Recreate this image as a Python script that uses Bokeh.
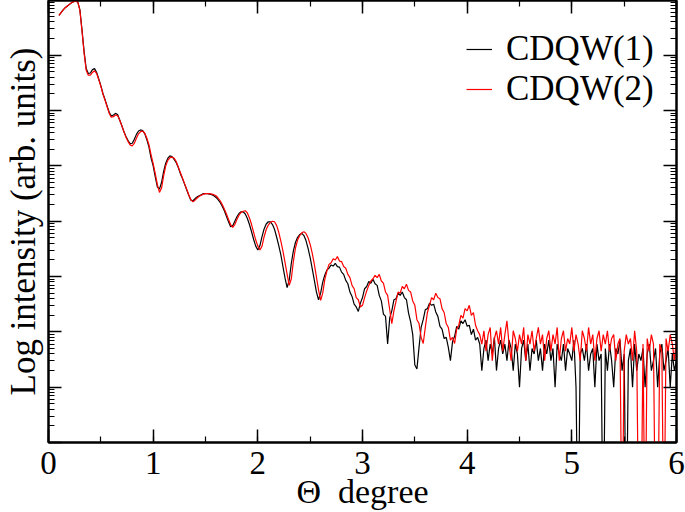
import numpy as np
from bokeh.plotting import figure
from bokeh.models import (Range1d, LinearAxis, LogAxis, SingleIntervalTicker,
                          LogTicker, Legend, LegendItem, ColumnDataSource)
from bokeh.embed import file_html
from bokeh.resources import INLINE

# scan grid (degrees)
theta_start = 0.10
theta_step = 0.02

# log10 of intensity, CDQW(1) (black)
cdqw1_log10 = [
    7.72, 7.77, 7.82, 7.86, 7.89, 7.92, 7.95, 7.97, 7.98, 7.96,
    7.82, 7.46, 7.07, 6.76, 6.67, 6.68, 6.74, 6.76, 6.69, 6.57,
    6.45, 6.31, 6.20, 6.08, 5.97, 5.90, 5.92, 5.95, 5.93, 5.83,
    5.73, 5.62, 5.53, 5.46, 5.40, 5.41, 5.48, 5.57, 5.63, 5.65,
    5.64, 5.58, 5.47, 5.34, 5.14, 5.00, 4.80, 4.62, 4.58, 4.70,
    4.90, 5.05, 5.14, 5.18, 5.17, 5.12, 5.06, 4.97, 4.86, 4.77,
    4.67, 4.57, 4.47, 4.38, 4.37, 4.41, 4.44, 4.46, 4.48, 4.50,
    4.50, 4.50, 4.49, 4.48, 4.46, 4.43, 4.39, 4.34, 4.27, 4.19,
    4.09, 3.99, 3.90, 3.92, 4.00, 4.08, 4.14, 4.17, 4.17, 4.13,
    4.05, 3.94, 3.81, 3.67, 3.55, 3.48, 3.56, 3.72, 3.86, 3.95,
    3.99, 3.99, 3.94, 3.85, 3.71, 3.56, 3.39, 3.18, 2.97, 2.80,
    2.94, 3.24, 3.47, 3.62, 3.71, 3.76, 3.78, 3.74, 3.65, 3.51,
    3.34, 3.14, 2.93, 2.72, 2.58, 2.70, 2.90, 3.03, 3.12, 3.15,
    3.21, 3.19, 3.24, 3.18, 3.17, 3.08, 3.04, 2.93, 2.87, 2.72,
    2.64, 2.50, 2.45, 2.37, 2.52, 2.62, 2.78, 2.82, 2.91, 2.88,
    2.95, 2.87, 2.84, 2.66, 2.56, 2.32, 2.28, 1.78, 2.25, 2.38,
    2.58, 2.60, 2.70, 2.66, 2.72, 2.62, 2.58, 2.34, 2.18, 1.95,
    1.40, 1.33, 1.72, 2.08, 2.22, 2.40, 2.42, 2.52, 2.48, 2.50,
    2.36, 2.28, 2.10, 2.05, 1.88, 1.90, 1.72, 1.48, 1.82, 1.92,
    2.10, 2.05, 2.20, 2.15, 2.22, 2.10, 2.12, 1.95, 2.05, 1.85,
    1.90,
    1.78, 1.30, 1.70, 1.85, 1.48, 1.78, 1.60, 1.90, 1.30, 1.70,
    1.85, 1.60, 1.78, 1.48, 1.85, 1.70, 1.30, 1.78, 1.60, 1.00,
    1.70, 1.85, 1.48, 1.78, 1.30, 1.70, 1.60, 1.85, 1.48, 1.70,
    1.30, 1.78, 1.60, 1.85, 1.48, 1.70, 1.00, 1.78, 1.60, 1.48,
    1.78, 1.30, 1.70, 1.60, 1.48, 1.85, 1.00, -2.0, 1.60, 1.70,
    1.48, 1.78, 1.30, 1.60, 1.70, 1.00, 1.78, 1.48, 1.60, -2.0,
    1.70, 1.30, 1.78, 1.48, 1.00, 1.70, 1.60, 1.85, 1.30, 1.60,
    -2.0, 1.48, 1.70, 1.00, 1.78, 1.30, 1.60, 1.48, 1.70, 1.00,
    1.60, 1.78, 1.30, 1.48, 1.70, 1.00, 1.60, 1.78, 1.30, 1.48,
    1.70, 1.00, 1.60, 1.30, 1.48,
]

# log10 of intensity, CDQW(2) (red)
cdqw2_log10 = [
    7.72, 7.77, 7.82, 7.86, 7.89, 7.92, 7.95, 7.97, 7.98, 7.96,
    7.81, 7.44, 7.04, 6.73, 6.64, 6.64, 6.69, 6.72, 6.67, 6.56,
    6.44, 6.30, 6.19, 6.07, 5.95, 5.88, 5.89, 5.92, 5.91, 5.83,
    5.73, 5.62, 5.52, 5.44, 5.38, 5.36, 5.41, 5.50, 5.58, 5.62,
    5.63, 5.59, 5.50, 5.38, 5.20, 5.04, 4.86, 4.66, 4.52, 4.60,
    4.82, 5.00, 5.10, 5.15, 5.16, 5.14, 5.08, 4.98, 4.88, 4.78,
    4.68, 4.58, 4.48, 4.39, 4.35, 4.38, 4.42, 4.45, 4.47, 4.49,
    4.50, 4.50, 4.50, 4.49, 4.48, 4.46, 4.42, 4.37, 4.30, 4.22,
    4.13, 4.03, 3.94, 3.89, 3.94, 4.03, 4.11, 4.16, 4.18, 4.19,
    4.15, 4.06, 3.94, 3.80, 3.66, 3.55, 3.48, 3.55, 3.72, 3.85,
    3.93, 3.98, 4.00, 3.99, 3.92, 3.80, 3.64, 3.46, 3.25, 3.04,
    2.84, 2.96, 3.28, 3.52, 3.66, 3.74, 3.79, 3.81, 3.78, 3.70,
    3.58, 3.42, 3.22, 2.99, 2.76, 2.57, 2.70, 2.95, 3.10, 3.22,
    3.25, 3.32, 3.30, 3.36, 3.28, 3.27, 3.18, 3.15, 3.04, 2.98,
    2.84, 2.78, 2.62, 2.58, 2.45, 2.48, 2.62, 2.74, 2.84, 2.92,
    2.96, 3.02, 2.98, 3.04, 2.92, 2.88, 2.72, 2.66, 2.40, 2.15,
    2.38, 2.55, 2.72, 2.70, 2.82, 2.78, 2.86, 2.75, 2.72, 2.56,
    2.48, 2.22, 2.15, 1.90, 1.79, 2.08, 2.35, 2.48, 2.62, 2.58,
    2.70, 2.62, 2.60, 2.42, 2.35, 2.15, 2.08, 1.85, 1.90, 1.79,
    2.05, 2.12, 2.30, 2.25, 2.42, 2.38, 2.48, 2.30, 2.35, 2.12,
    2.02,
    1.95, 1.78, 2.02, 1.65, 1.95, 2.08, 1.48, 1.88, 2.02, 1.78,
    2.08, 1.65, 1.95, 2.20, 1.78, 1.48, 2.02, 1.88, 1.65, 1.95,
    1.78, 2.08, 1.48, 1.95, 1.78, 2.02, 1.65, 1.88, 2.08, 1.78,
    1.95, 1.48, 1.88, 2.02, 1.65, 1.95, 1.78, 2.08, 1.48, 1.88,
    2.02, 1.65, 1.88, 1.78, 2.08, 1.65, 1.95, 1.78, 1.48, 2.02,
    1.88, 1.65, 2.08, 1.78, 1.95, 1.48, 1.88, 2.02, 1.65, 1.95,
    1.78, 2.02, 1.65, 1.88, 1.95, 1.48, 1.78, 1.88, -2.0, 1.65,
    1.95, 1.78, 1.88, 1.48, 2.02, 1.65, -2.0, -2.0, 1.78, -2.0,
    1.88, 1.65, 1.95, 1.78, -2.0, -2.0, 1.78, 1.65, -2.0, 1.88,
    1.65, 1.95, 1.78, 1.48, 1.88,
]

series_labels = ["CDQW(1)", "CDQW(2)"]
series_colors = ["black", "#ff0000"]
x_ticks_interval = 1
x_axis_label = "\u0398\u00a0\u00a0degree"
y_axis_label = "Log intensity (arb. units)"

n = len(cdqw1_log10)
theta = np.round(theta_start + theta_step * np.arange(n), 2)
src = ColumnDataSource(dict(
    theta=theta,
    i1=10.0 ** np.array(cdqw1_log10),
    i2=10.0 ** np.array(cdqw2_log10),
))

FONT = "Liberation Serif"

p = figure(width=685, height=512, output_backend="svg", toolbar_location=None,
           y_axis_type="log", x_range=Range1d(0, 6), y_range=Range1d(1, 10 ** 7.99),
           min_border_left=44, min_border_right=9, min_border_top=0, min_border_bottom=0)
p.grid.visible = False
p.outline_line_color = "black"
p.outline_line_width = 2
p.background_fill_color = "white"
p.border_fill_color = "white"

r1 = p.line("theta", "i1", source=src, line_color=series_colors[0], line_width=1.2)
r2 = p.line("theta", "i2", source=src, line_color=series_colors[1], line_width=1.2)

def style_axis(ax, show_labels):
    ax.axis_line_color = "black"
    ax.axis_line_width = 2
    ax.major_tick_in = 13
    ax.major_tick_out = 0
    ax.minor_tick_in = 6
    ax.minor_tick_out = 0
    ax.major_tick_line_width = 1.5
    ax.minor_tick_line_width = 1.2
    ax.major_tick_line_color = "black"
    ax.minor_tick_line_color = "black"
    if show_labels:
        ax.major_label_text_font = FONT
        ax.major_label_text_font_size = "33px"
        ax.major_label_text_color = "black"
        ax.major_label_standoff = 9
    else:
        ax.major_label_text_font_size = "1px"
        ax.major_label_text_alpha = 0
        ax.major_label_standoff = 0

xa = p.xaxis[0]
xa.ticker = SingleIntervalTicker(interval=x_ticks_interval, num_minor_ticks=2)
style_axis(xa, True)
xa.axis_label = x_axis_label
xa.axis_label_text_font = FONT
xa.axis_label_text_font_size = "34px"
xa.axis_label_text_font_style = "normal"
xa.axis_label_text_color = "black"
xa.axis_label_standoff = -4

ya = p.yaxis[0]
ya.ticker = LogTicker(num_minor_ticks=10)
style_axis(ya, False)
ya.axis_label = y_axis_label
ya.axis_label_text_font = FONT
ya.axis_label_text_font_size = "35px"
ya.axis_label_text_font_style = "normal"
ya.axis_label_text_color = "black"
ya.axis_label_text_line_height = 1.0
ya.axis_label_standoff = 6

top = LinearAxis(ticker=SingleIntervalTicker(interval=x_ticks_interval, num_minor_ticks=2))
style_axis(top, False)
p.add_layout(top, "above")

right = LogAxis(ticker=LogTicker(num_minor_ticks=10))
style_axis(right, False)
p.add_layout(right, "right")

legend = Legend(items=[LegendItem(label=series_labels[0], renderers=[r1]),
                       LegendItem(label=series_labels[1], renderers=[r2])],
                location=(418, 333), margin=0, padding=0, spacing=-5,
                glyph_width=26, glyph_height=36, label_height=36,
                label_standoff=14, label_text_font=FONT,
                label_text_font_size="35px", label_text_line_height=1.0,
                label_text_color="black",
                border_line_alpha=0, background_fill_alpha=0)
p.add_layout(legend)

open("out.html", "w").write(file_html(p, INLINE))
